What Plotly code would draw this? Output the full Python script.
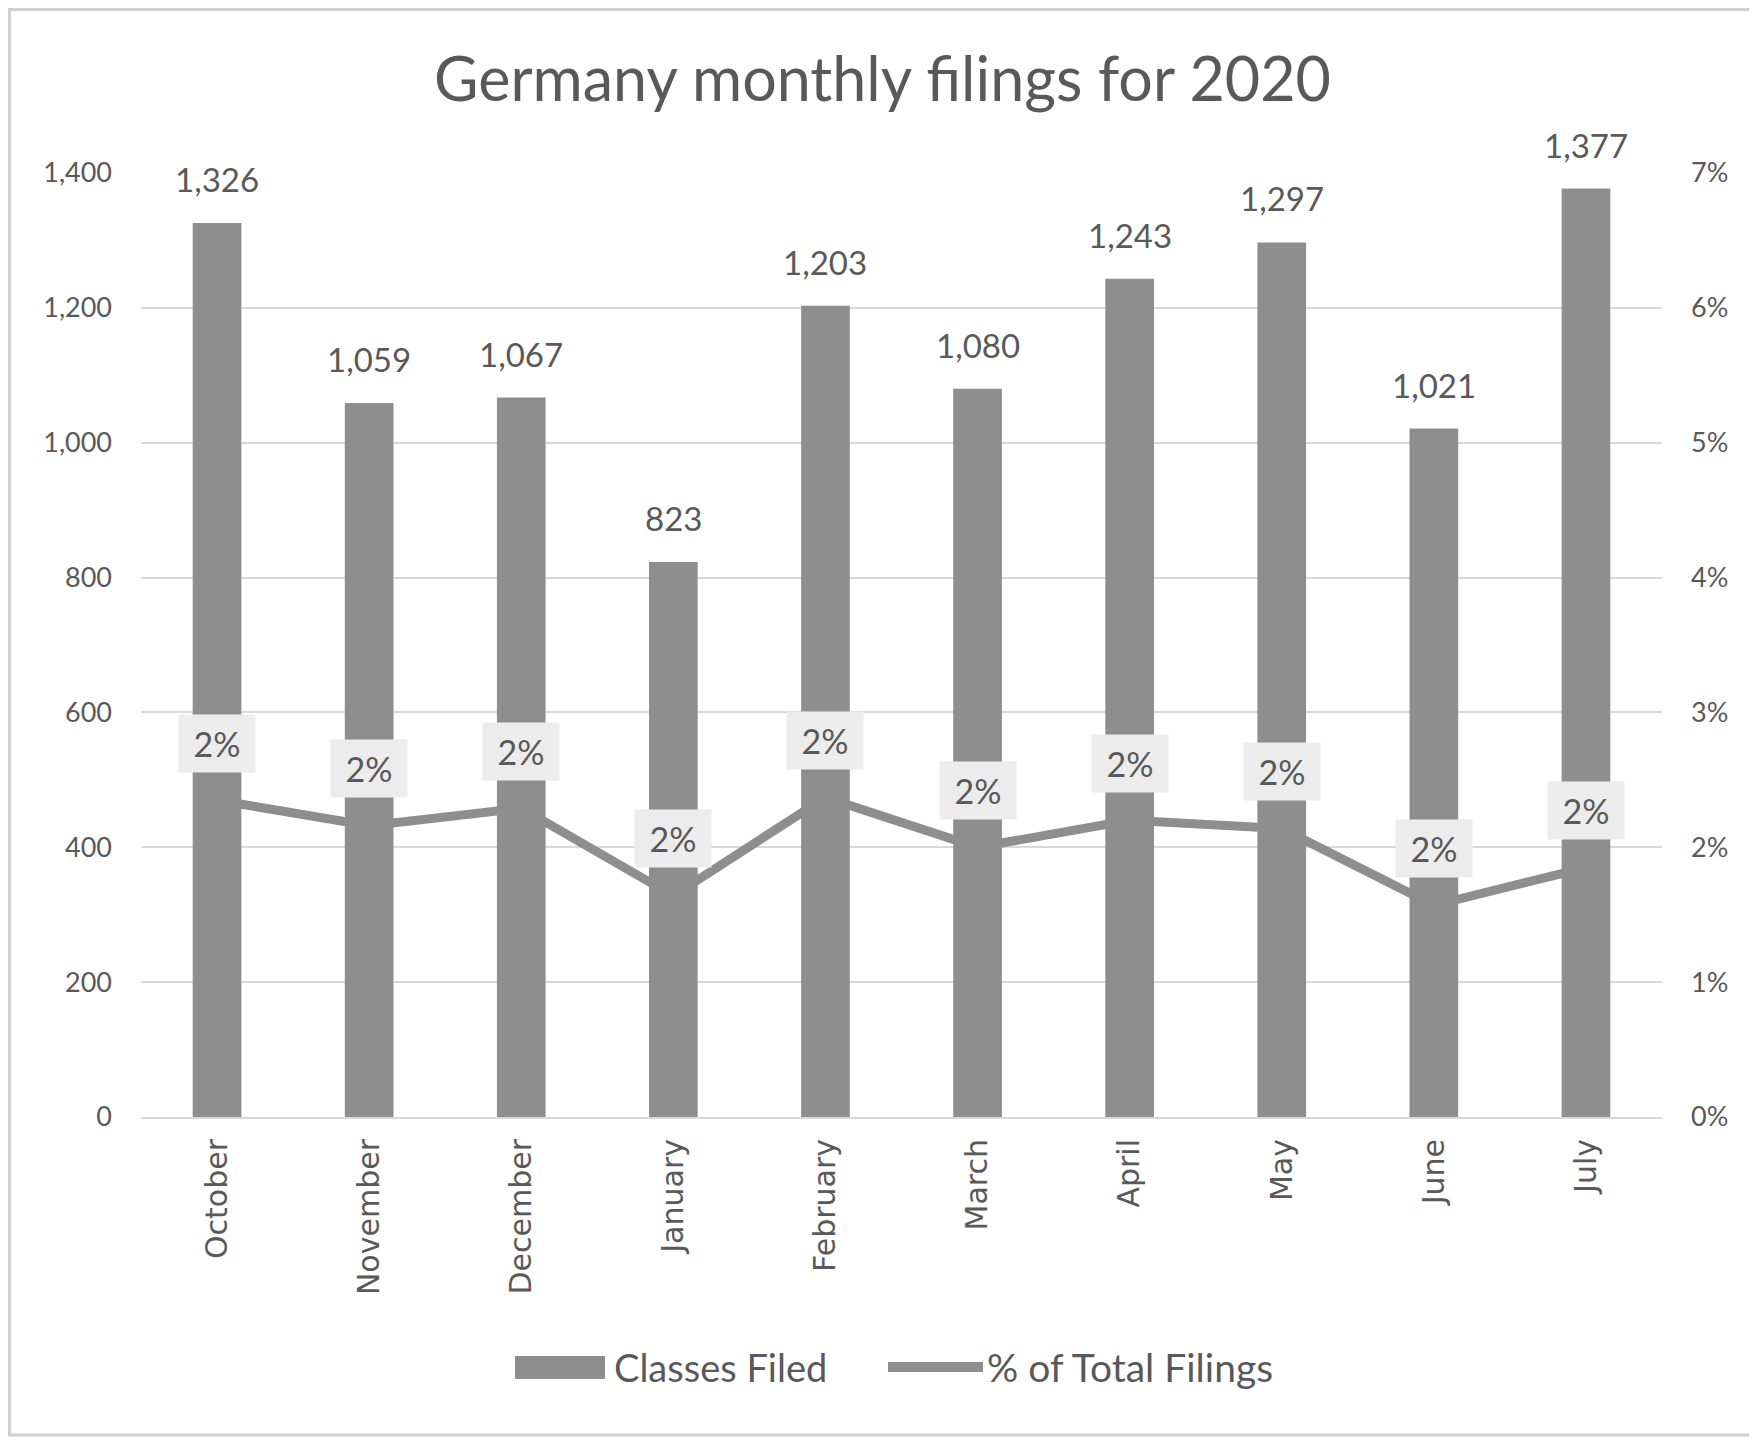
import plotly.graph_objects as go

months = ["October", "November", "December", "January", "February",
          "March", "April", "May", "June", "July"]
classes_filed = [1326, 1059, 1067, 823, 1203, 1080, 1243, 1297, 1021, 1377]
pct_total = [2.35, 2.16, 2.29, 1.64, 2.37, 2.00, 2.20, 2.14, 1.57, 1.85]
left_ticks = [0, 200, 400, 600, 800, 1000, 1200, 1400]
right_ticks = [0, 1, 2, 3, 4, 5, 6, 7]
legend_names = ["Classes Filed", "% of Total Filings"]

BAR = "#8e8e8e"
TXT = "#595959"
GRID = "#d9d9d9"
FONT = "Lato"

OFF = 8  # page body margin
W, H = 1757 - OFF, 1440 - OFF
L, R, T, B = 141 - OFF, 95, 173 - OFF, 323
pw, ph = W - L - R, H - T - B

def px(x):
    # x in page (reference) pixels
    return (x - OFF - L) / pw

def py(y):
    return (H - B - (y - OFF)) / ph

fig = go.Figure()
fig.add_trace(go.Bar(
    x=months, y=classes_filed, name=legend_names[0],
    marker=dict(color=BAR, line=dict(width=0)), showlegend=False,
))
fig.add_trace(go.Scatter(
    x=months, y=pct_total, name=legend_names[1], yaxis="y2",
    mode="lines", line=dict(color=BAR, width=9), cliponaxis=False, showlegend=False,
))

# value labels above bars
for m, v in zip(months, classes_filed):
    fig.add_annotation(
        x=m, y=v, text=f"{v:,}", showarrow=False, yanchor="bottom", yshift=22,
        font=dict(size=33, color=TXT, family=FONT),
    )

# percentage labels above line points
for m, p in zip(months, pct_total):
    fig.add_annotation(
        x=m, y=p, yref="y2", text=f"{round(p):.0f}%", showarrow=False,
        yshift=57, bgcolor="#ececec", borderpad=2, width=72, height=53,
        font=dict(size=34, color=TXT, family=FONT),
    )

# outer frame
fig.add_shape(type="rect", xref="paper", yref="paper",
              x0=px(OFF + 1.5), x1=px(1755.5), y0=py(OFF + 1.5), y1=py(1435),
              line=dict(color="#d0d0d0", width=3), fillcolor="rgba(0,0,0,0)")

# manual legend
fig.add_shape(type="rect", xref="paper", yref="paper",
              x0=px(515), x1=px(605), y0=py(1379), y1=py(1356),
              line=dict(width=0), fillcolor=BAR)
fig.add_annotation(xref="paper", yref="paper", x=px(612), y=py(1367),
                   xanchor="left", yanchor="middle", text=legend_names[0],
                   showarrow=False, font=dict(size=38, color=TXT, family=FONT))
fig.add_shape(type="line", xref="paper", yref="paper",
              x0=px(888), x1=px(983), y0=py(1367), y1=py(1367),
              line=dict(color=BAR, width=10))
fig.add_annotation(xref="paper", yref="paper", x=px(985), y=py(1367),
                   xanchor="left", yanchor="middle", text=legend_names[1],
                   showarrow=False, font=dict(size=39, color=TXT, family=FONT))

fig.update_layout(
    width=W, height=H,
    margin=dict(l=L, r=R, t=T, b=B),
    paper_bgcolor="white", plot_bgcolor="white",
    font=dict(family=FONT, color=TXT),
    title=dict(text="Germany monthly filings for 2020", x=0.5, xanchor="center",
               y=1 - (80 - OFF) / H, yanchor="middle", yref="container",
               font=dict(size=61, color=TXT, family=FONT)),
    bargap=0.68,
    showlegend=False,
    xaxis=dict(tickangle=-90, tickfont=dict(size=30, color=TXT, family="DejaVu Sans"),
               showline=True, linecolor=GRID, linewidth=2, ticks="",
               ticklabelstandoff=8, showgrid=False),
    yaxis=dict(range=[0, 1400], tickvals=left_ticks, tickformat=",",
               tickfont=dict(size=27, color=TXT, family=FONT),
               showgrid=True, gridcolor=GRID, gridwidth=2, zeroline=False,
               ticklabelstandoff=28, showline=False),
    yaxis2=dict(range=[0, 7], tickvals=right_ticks,
                ticktext=[f"{v}%" for v in right_ticks], overlaying="y",
                side="right", showgrid=False, zeroline=False,
                tickfont=dict(size=27, color=TXT, family=FONT),
                ticklabelstandoff=28),
)

fig.write_html("out.html")
